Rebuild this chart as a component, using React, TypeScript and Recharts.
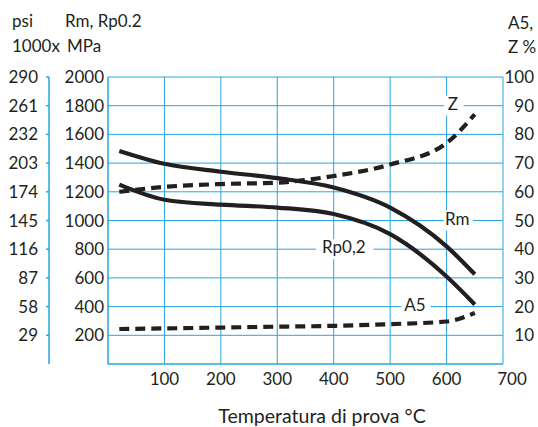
import { ComposedChart, Line, XAxis, YAxis, CartesianGrid, ReferenceDot } from 'recharts';

document.body.style.margin = '0';

// Values
const temperatures = [20, 100, 200, 300, 400, 500, 600, 650];
const rm = [1485, 1395, 1340, 1295, 1230, 1090, 820, 625];
const rp02 = [1250, 1145, 1110, 1090, 1045, 905, 610, 415];
const zPct = [60, 61.7, 62.7, 63.2, 65.5, 69.5, 77, 87];
const a5Pct = [12.2, 12.4, 12.7, 13, 13.3, 13.9, 14.8, 17.8];

const tempTicks = [100, 200, 300, 400, 500, 600, 700];
const mpaTicks = [200, 400, 600, 800, 1000, 1200, 1400, 1600, 1800, 2000];
const psiTicks = [29, 58, 87, 116, 145, 174, 203, 232, 261, 290];
const pctTicks = [10, 20, 30, 40, 50, 60, 70, 80, 90, 100];

const curveLabels = [
  { text: 'Z', temp: 611, value: 90, axis: 'pct' },
  { text: 'Rm', temp: 619, value: 1000, axis: 'mpa' },
  { text: 'Rp0,2', temp: 418, value: 800, axis: 'mpa' },
  { text: 'A5', temp: 544, value: 20, axis: 'pct' },
];

const data = temperatures.map((t, i) => ({
  t,
  rm: rm[i],
  rp02: rp02[i],
  z: zPct[i],
  a5: a5Pct[i],
}));

const FONT = 'Lato, "Open Sans", sans-serif';
const INK = '#231f20';
const GRID = '#29a4de';
const tickStyle = { fontSize: 17, fill: INK, fontFamily: FONT };

function CurveLabel({ cx, cy, text }: any) {
  const w = text.length * 9.5;
  return (
    <g>
      <rect x={cx - w / 2 - 4} y={cy - 10} width={w + 10} height={20} fill="#fff" />
      <text x={cx} y={cy + 4} textAnchor="middle" fontSize={17} fontFamily={FONT} fill={INK}>
        {text}
      </text>
    </g>
  );
}

function TempTick({ x, y, payload }: any) {
  const shift = payload.value === 700 ? 9 : 0;
  return (
    <text x={x + shift} y={y} dy="0.71em" textAnchor="middle" {...tickStyle}>
      {payload.value}
    </text>
  );
}

export default function App() {
  return (
    <div style={{ position: 'relative', width: 538, height: 427, background: '#fff' }}>
      <ComposedChart
        width={538}
        height={427}
        data={data}
        margin={{ top: 77, right: 0, left: 0, bottom: 0 }}
      >
        <CartesianGrid
          yAxisId="mpa"
          stroke={GRID}
          strokeWidth={1}
          horizontalValues={mpaTicks}
          verticalValues={tempTicks}
        />
        <XAxis
          dataKey="t"
          type="number"
          domain={[0, 700]}
          ticks={tempTicks}
          interval={0}
          height={63}
          axisLine={{ stroke: GRID, strokeWidth: 1.5 }}
          tickLine={false}
          tickSize={0}
          tickMargin={9}
          tick={<TempTick />}
        />
        <YAxis
          yAxisId="mpa"
          orientation="left"
          domain={[0, 2000]}
          ticks={mpaTicks}
          interval={0}
          width={59}
          axisLine={{ stroke: GRID, strokeWidth: 1.5 }}
          tickLine={false}
          tickSize={0}
          tickMargin={4}
          tick={tickStyle}
        />
        <YAxis
          yAxisId="psi"
          orientation="left"
          type="number"
          domain={[0, 290]}
          allowDataOverflow
          ticks={psiTicks}
          interval={0}
          width={49}
          axisLine={{ stroke: GRID, strokeWidth: 1.5 }}
          tickLine={{ stroke: GRID, strokeWidth: 1.5 }}
          tickSize={3}
          tickMargin={8}
          tick={tickStyle}
        />
        <YAxis
          yAxisId="pct"
          orientation="right"
          domain={[0, 100]}
          ticks={pctTicks}
          interval={0}
          width={35}
          axisLine={false}
          tickLine={false}
          tickSize={0}
          tickMargin={31}
          tick={{ ...tickStyle, textAnchor: 'end' }}
        />
        <Line yAxisId="mpa" type="monotone" dataKey="rm" stroke={INK} strokeWidth={4.2} dot={false} activeDot={false} isAnimationActive={false} />
        <Line yAxisId="mpa" type="monotone" dataKey="rp02" stroke={INK} strokeWidth={4.2} dot={false} activeDot={false} isAnimationActive={false} />
        <Line yAxisId="pct" type="monotone" dataKey="z" stroke={INK} strokeWidth={4.2} strokeDasharray="10 6" dot={false} activeDot={false} isAnimationActive={false} />
        <Line yAxisId="pct" type="monotone" dataKey="a5" stroke={INK} strokeWidth={4.2} strokeDasharray="10 6" dot={false} activeDot={false} isAnimationActive={false} />
        {curveLabels.map((l) => (
          <ReferenceDot
            key={l.text}
            x={l.temp}
            y={l.value}
            yAxisId={l.axis}
            shape={(p: any) => <CurveLabel {...p} text={l.text} />}
          />
        ))}
      </ComposedChart>
      <svg
        width={538}
        height={427}
        style={{ position: 'absolute', left: 0, top: 0, pointerEvents: 'none' }}
        fontFamily={FONT}
        fontSize={17}
        fill={INK}
      >
        <text x={12} y={27}>psi</text>
        <text x={12} y={52}>1000x</text>
        <text x={65} y={27}>Rm, Rp0.2</text>
        <text x={67} y={52}>MPa</text>
        <text x={508} y={29}>A5,</text>
        <text x={508} y={53}>Z %</text>
        <text x={322} y={423} textAnchor="middle" fontSize={19.5}>Temperatura di prova °C</text>
      </svg>
    </div>
  );
}
